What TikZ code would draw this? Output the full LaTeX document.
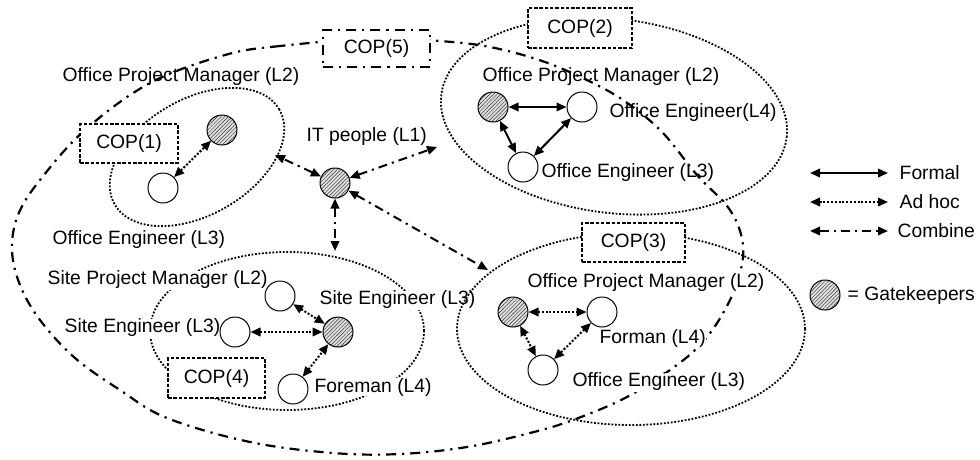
\documentclass[tikz,border=0pt]{standalone}
\usepackage{fontspec}
\setmainfont{Liberation Sans}
\usetikzlibrary{arrows.meta,patterns.meta,shapes.geometric}
\begin{document}
\begin{tikzpicture}[x=1pt,y=-1pt,
  lbl/.style={font=\fontsize{19.3}{22}\selectfont, inner sep=0.5pt, anchor=west},
  lblw/.style={lbl, fill=white},
  copbox/.style={draw, fill=white, line width=1.3pt, dash pattern=on 3.5pt off 1.8pt, font=\fontsize{19.3}{22}\selectfont, inner sep=0pt},
  copfive/.style={draw, fill=white, line width=2.2pt, dash pattern=on 10pt off 6pt on 2.2pt off 6pt, font=\fontsize{19.3}{22}\selectfont, inner sep=0pt},
  person/.style={circle, draw, line width=1pt, minimum size=30pt, inner sep=0pt, fill=white},
  gate/.style={circle, draw, line width=1pt, minimum size=30pt, inner sep=0pt, preaction={fill=gray!25}, pattern={Lines[angle=45,distance=2.6pt,line width=0.45pt]}, pattern color=black!80},
  tip/.tip={Triangle[length=10pt,width=8.5pt]},
  formal/.style={tip-tip, line width=2pt},
  adhoc/.style={tip-tip, line width=2pt, dash pattern=on 2pt off 1.8pt},
  combine/.style={tip-tip, line width=2pt, dash pattern=on 9pt off 5pt on 2.2pt off 5pt},
  dotl/.style={line width=1.8pt, dash pattern=on 1.8pt off 1.7pt},
  bigdd/.style={line width=2.2pt, dash pattern=on 10pt off 6pt on 2.2pt off 6pt}]
\useasboundingbox (0,0) rectangle (980,459);
\fill[white] (0,0) rectangle (980,459);

% dotted COP ellipses (first layer)
\draw[dotl] (287,331) ellipse [x radius=137pt, y radius=79pt];
\draw[dotl, rotate around={30:(197,157)}] (197,157) ellipse [x radius=95pt, y radius=58pt];

% labels with white background
\node[lblw] (opm1) at (62,77) {Office Project Manager (L2)};
\node[lblw] (oe1) at (52,240) {Office Engineer (L3)};
\node[lblw] (spm) at (47,280) {Site Project Manager (L2)};
\node[lblw] (se4l) at (64,328) {Site Engineer (L3)};
\node[lblw] (se4r) at (319,300) {Site Engineer (L3)};
\node[lblw] (fm4) at (314,387) {Foreman (L4)};

\draw[dotl] (631,329) ellipse [x radius=174pt, y radius=96pt];
\draw[dotl, rotate around={-7:(614,116)}] (614,116) ellipse [x radius=174pt, y radius=97pt];

% big COP(5) boundary
\draw[bigdd] plot[smooth cycle, tension=0.6] coordinates {
 (378,38) (280,46) (225,55) (150,83) (85,130) (40,180) (18,215) (12,250)
 (20,285) (40,320) (75,358) (120,390) (167,418) (250,442) (333,453) (400,454)
 (467,447) (530,433) (573,420) (625,398) (670,370) (700,345) (722,315)
 (738,280) (743,245) (730,210) (697,175) (663,133) (630,105) (597,85)
 (545,62) (490,47) (440,41)};

% COP(3) labels (white background)
\node[lblw] (opm3) at (527,283) {Office Project Manager (L2)};
\node[lblw] (fm3) at (599,338) {Forman (L4)};
\node[lblw] (oe3) at (572,382) {Office Engineer (L3)};

% other labels
\node[lbl] (itl) at (306,137) {IT people (L1)};
\node[lbl] (opm2) at (482,77) {Office Project Manager (L2)};
\node[lbl] (oe24) at (609,113) {Office Engineer(L4)};
\node[lbl] (oe23) at (541,173) {Office Engineer (L3)};

% COP boxes
\node[copbox, minimum width=98pt, minimum height=39pt] (cop1) at (129,143.5) {COP(1)};
\node[copbox, minimum width=104pt, minimum height=40pt] (cop2) at (580,28) {COP(2)};
\node[copbox, minimum width=103pt, minimum height=39pt] (cop3) at (633.5,242.5) {COP(3)};
\node[copbox, minimum width=97pt, minimum height=40pt] (cop4) at (216.5,378) {COP(4)};
\node[copfive, minimum width=107pt, minimum height=37pt] (cop5) at (376.5,48.5) {COP(5)};

% people
\node[gate] (g1) at (222,130) {};
\node[person] (w1) at (163,188) {};
\node[gate] (it) at (335,183) {};
\node[gate] (g2) at (493,107) {};
\node[person] (p2a) at (582,107) {};
\node[person] (p2b) at (523,167) {};
\node[gate] (g3) at (513,312) {};
\node[person] (p3a) at (602,312) {};
\node[person] (p3b) at (543,370) {};
\node[gate] (g4) at (338,332) {};
\node[person] (p4a) at (280,296) {};
\node[person] (p4b) at (235,332) {};
\node[person] (p4c) at (293,389) {};

% connector end points on COP boundaries
\coordinate (e1) at (275,155);
\coordinate (e2) at (437,147);
\coordinate (e4) at (335,251);
\coordinate (e3) at (488,270);

% connectors
\draw[adhoc] (w1) -- (g1);
\draw[combine] (it) -- (e1);
\draw[combine] (it) -- (e2);
\draw[combine] (it) -- (e4);
\draw[combine] (it) -- (e3);
\draw[formal] (g2) -- (p2a);
\draw[formal] (g2) -- (p2b);
\draw[formal] (p2a) -- (p2b);
\draw[adhoc] (g3) -- (p3a);
\draw[adhoc] (g3) -- (p3b);
\draw[adhoc] (p3a) -- (p3b);
\draw[adhoc] (p4a) -- (g4);
\draw[adhoc] (p4b) -- (g4);
\draw[adhoc] (p4c) -- (g4);

% legend
\coordinate (fa) at (810,173); \coordinate (fb) at (888,173);
\coordinate (aa) at (810,202); \coordinate (ab) at (888,202);
\coordinate (ca) at (810,231); \coordinate (cb) at (888,231);
\draw[formal] (fa) -- (fb);
\draw[adhoc] (aa) -- (ab);
\draw[combine] (ca) -- (cb);
\node[lbl] (lf) at (899,173) {Formal};
\node[lbl] (la) at (899,202) {Ad hoc};
\node[lbl] (lc) at (897,231) {Combine};
\node[gate] (lg) at (825,295) {};
\node[lbl] (lgt) at (847,296) {= Gatekeepers};
\end{tikzpicture}
\end{document}
